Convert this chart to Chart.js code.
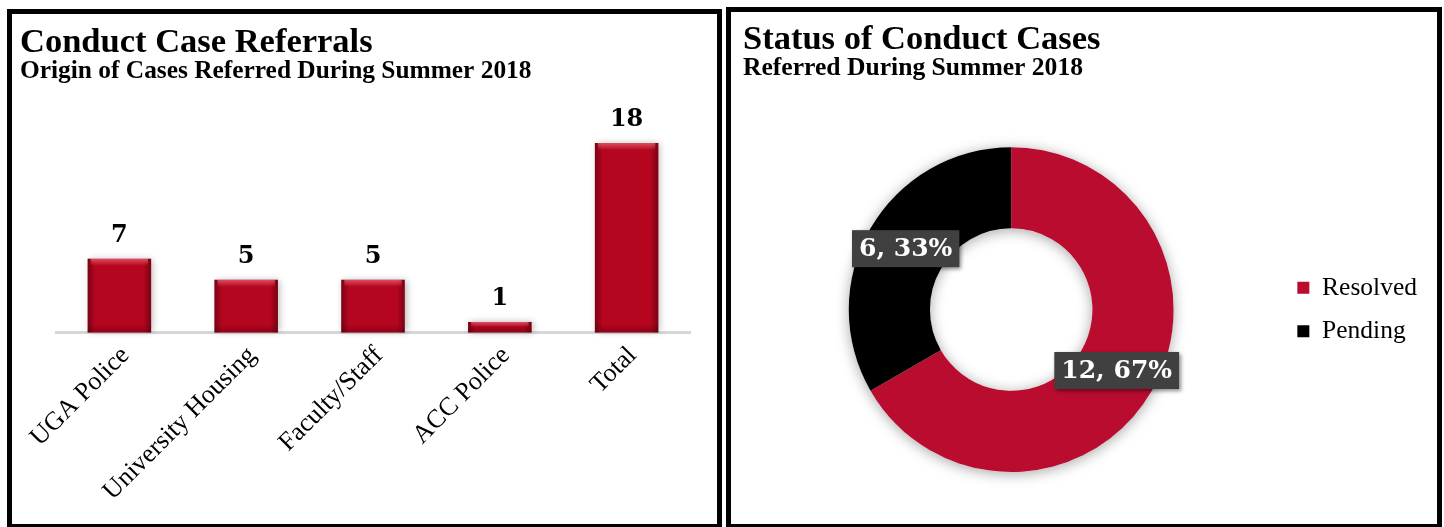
<!DOCTYPE html>
<html><head><meta charset="utf-8">
<script src="https://cdn.jsdelivr.net/npm/chart.js@4.4.1/dist/chart.umd.min.js"></script>
<style>
html,body{margin:0;padding:0;background:#fff;width:1444px;height:527px;overflow:hidden;}
.panel{position:absolute;box-sizing:border-box;border:5px solid #000;background:#fff;}
#p1{left:7px;top:9px;width:715px;height:520px;}
#p2{left:726px;top:7px;width:716px;height:522px;}
.panel canvas{display:block;}
</style></head><body>
<div class="panel" id="p1"><canvas id="c1" width="705" height="510"></canvas></div>
<div class="panel" id="p2"><canvas id="c2" width="706" height="512"></canvas></div>
<script>
const barCategories = ['UGA Police', 'University Housing', 'Faculty/Staff', 'ACC Police', 'Total'];
const barValues = [7, 5, 5, 1, 18];
const statusLabels = ['Resolved', 'Pending'];
const statusValues = [12, 6];
const statusColors = ['#BA0C2F', '#000000'];

const SERIF = "'Liberation Serif', 'Times New Roman', serif";
const LABEL_SERIF = "'DejaVu Serif', serif";

const barDecor = {
  id: 'barDecor',
  beforeDatasetDraw(chart) {
    const ctx = chart.ctx;
    ctx.save();
    ctx.shadowColor = 'rgba(0,0,0,0.28)';
    ctx.shadowBlur = 7;
    ctx.shadowOffsetX = 2;
    ctx.shadowOffsetY = 0;
  },
  afterDatasetDraw(chart) { chart.ctx.restore(); },
  afterDatasetsDraw(chart) {
    const ctx = chart.ctx;
    const meta = chart.getDatasetMeta(0);
    meta.data.forEach((bar, i) => {
      const l = bar.x - bar.width / 2, r = bar.x + bar.width / 2;
      const top = bar.y, bot = bar.base;
      ctx.save();
      const g = ctx.createLinearGradient(l, 0, r, 0);
      g.addColorStop(0, 'rgba(70,0,10,0.55)');
      g.addColorStop(0.12, 'rgba(70,0,10,0)');
      g.addColorStop(0.88, 'rgba(70,0,10,0)');
      g.addColorStop(1, 'rgba(70,0,10,0.55)');
      ctx.fillStyle = g;
      ctx.fillRect(l, top, r - l, bot - top);
      const h = Math.min(7, (bot - top) / 2);
      const g2 = ctx.createLinearGradient(0, top, 0, top + h);
      g2.addColorStop(0, 'rgba(255,140,150,0.55)');
      g2.addColorStop(1, 'rgba(255,140,150,0)');
      ctx.fillStyle = g2;
      ctx.fillRect(l + 3, top, r - l - 6, h);
      const g3 = ctx.createLinearGradient(0, bot - 8, 0, bot);
      g3.addColorStop(0, 'rgba(60,0,10,0)');
      g3.addColorStop(1, 'rgba(60,0,10,0.35)');
      ctx.fillStyle = g3;
      ctx.fillRect(l, Math.max(top, bot - 8), r - l, Math.min(8, bot - top));
      ctx.restore();
      ctx.save();
      ctx.fillStyle = '#000';
      ctx.font = "bold 24px " + LABEL_SERIF;
      ctx.textAlign = 'center';
      ctx.textBaseline = 'alphabetic';
      ctx.fillText(String(barValues[i]), bar.x, bar.y - 17);
      ctx.restore();
    });
  }
};

new Chart(document.getElementById('c1'), {
  type: 'bar',
  data: {
    labels: barCategories,
    datasets: [{
      data: barValues,
      backgroundColor: '#B5051F',
      borderWidth: 0,
      barPercentage: 1,
      categoryPercentage: 0.5,
      clip: false
    }]
  },
  options: {
    responsive: false,
    animation: false,
    events: [],
    layout: { padding: { left: 8, right: 27, top: 14, bottom: 9 } },
    plugins: {
      legend: { display: false },
      tooltip: { enabled: false },
      title: {
        display: true, text: 'Conduct Case Referrals', align: 'start', color: '#000',
        font: { family: SERIF, size: 34.5, weight: 'bold', lineHeight: 0.9 },
        padding: { top: 0, bottom: 0 }
      },
      subtitle: {
        display: true, text: 'Origin of Cases Referred During Summer 2018', align: 'start', color: '#000',
        font: { family: SERIF, size: 25.4, weight: 'bold', lineHeight: 1 },
        padding: { top: 0, bottom: 16.5 }
      }
    },
    scales: {
      x: {
        grid: { display: false, drawTicks: false },
        border: { display: true, color: '#d6d6d6', width: 3 },
        ticks: {
          color: '#000', maxRotation: 45, minRotation: 45, padding: 8, labelOffset: 6,
          font: { family: SERIF, size: 26 }
        }
      },
      y: {
        min: 0, max: 22,
        grid: { display: false, drawTicks: false },
        border: { display: false },
        ticks: { display: false },
        afterFit(s) { s.width = 36; }
      }
    }
  },
  plugins: [barDecor]
});

const ringDecor = {
  id: 'ringDecor',
  beforeDatasetsDraw(chart) {
    const arc = chart.getDatasetMeta(0).data[0];
    if (!arc) return;
    const ctx = chart.ctx;
    ctx.save();
    ctx.shadowColor = 'rgba(0,0,0,0.35)';
    ctx.shadowBlur = 14;
    ctx.shadowOffsetY = 2;
    ctx.fillStyle = '#ffffff';
    ctx.beginPath();
    ctx.arc(arc.x, arc.y, arc.outerRadius, 0, Math.PI * 2);
    ctx.arc(arc.x, arc.y, arc.innerRadius, 0, Math.PI * 2, true);
    ctx.fill();
    ctx.restore();
  },
  afterDatasetsDraw(chart) {
    const ctx = chart.ctx;
    const total = statusValues.reduce((a, b) => a + b, 0);
    chart.getDatasetMeta(0).data.forEach((arc, i) => {
      const p = arc.tooltipPosition();
      const v = statusValues[i];
      const txt = v + ', ' + Math.round(v / total * 100) + '%';
      ctx.save();
      ctx.font = "bold 25px " + LABEL_SERIF;
      const w = ctx.measureText(txt).width + 14;
      const h = 37;
      ctx.shadowColor = 'rgba(0,0,0,0.45)';
      ctx.shadowBlur = 4;
      ctx.shadowOffsetX = 2;
      ctx.shadowOffsetY = 2;
      ctx.fillStyle = '#404040';
      ctx.fillRect(p.x - w / 2, p.y - h / 2, w, h);
      ctx.shadowColor = 'transparent';
      ctx.fillStyle = '#ffffff';
      ctx.textAlign = 'center';
      ctx.textBaseline = 'middle';
      ctx.fillText(txt, p.x, p.y + 1);
      ctx.restore();
    });
  }
};

new Chart(document.getElementById('c2'), {
  type: 'doughnut',
  data: {
    labels: statusLabels,
    datasets: [{
      data: statusValues,
      backgroundColor: statusColors,
      borderWidth: 0
    }]
  },
  options: {
    responsive: false,
    animation: false,
    events: [],
    cutout: '50%',
    layout: { padding: { left: 12, right: 10, top: 13, bottom: 52 } },
    plugins: {
      tooltip: { enabled: false },
      title: {
        display: true, text: 'Status of Conduct Cases', align: 'start', color: '#000',
        font: { family: SERIF, size: 34.5, weight: 'bold', lineHeight: 0.9 },
        padding: { top: 0, bottom: 0 }
      },
      subtitle: {
        display: true, text: 'Referred During Summer 2018', align: 'start', color: '#000',
        font: { family: SERIF, size: 25.6, weight: 'bold', lineHeight: 1 },
        padding: { top: 0, bottom: 65.5 }
      },
      legend: {
        position: 'right',
        fullSize: false,
        labels: {
          color: '#000', boxWidth: 12, boxHeight: 12, padding: 18,
          font: { family: SERIF, size: 25.5 }
        }
      }
    }
  },
  plugins: [ringDecor]
});
</script>
</body></html>
